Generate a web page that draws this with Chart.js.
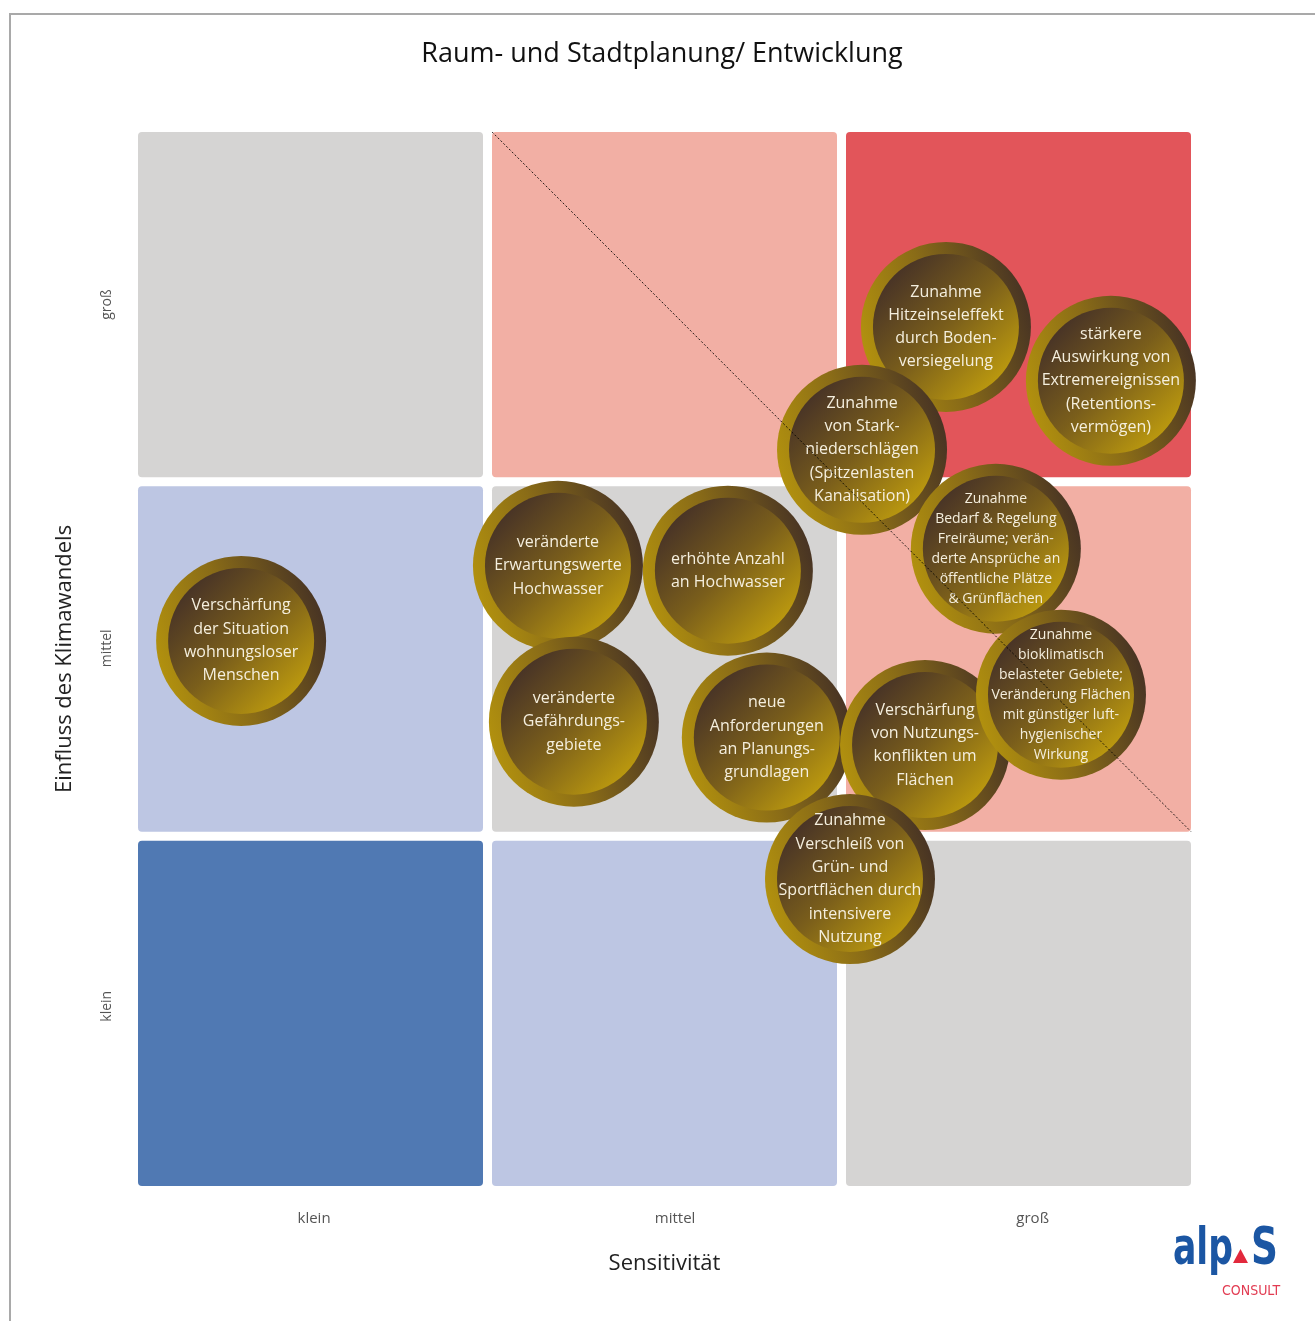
<!DOCTYPE html>
<html>
<head>
<meta charset="utf-8">
<script src="https://cdn.jsdelivr.net/npm/chart.js@4.4.1/dist/chart.umd.min.js"></script>
<style>
  body { margin: 0; background: #fff; }
  #rahmen { position: absolute; left: 9px; top: 13px; right: 0; bottom: 0; border-left: 2px solid #a9a9a9; border-top: 2px solid #a9a9a9; }
  #wrap { position: absolute; left: 0; top: 0; width: 1315px; height: 1321px; }
</style>
</head>
<body>
<div id="rahmen"></div>
<div id="wrap"><canvas id="matrix"></canvas></div>
<script>
//Achsen//
const achseX = ["klein", "mittel", "groß"];
const achseY = ["klein", "mittel", "groß"];
const tickPosX = [0.51, 1.53, 2.54];
const tickPosY = [0.52, 1.53, 2.5];

//Felder der Matrix (Spalte, Zeile, Farbe)//
const feldSpalte = [0, 1, 2, 0, 1, 2, 0, 1, 2];
const feldZeile = [2, 2, 2, 1, 1, 1, 0, 0, 0];
const feldFarbe = ["#d5d4d3", "#f2afa4", "#e2555a", "#bdc6e3", "#d5d4d3", "#f2afa4", "#5079b3", "#bdc6e3", "#d5d4d3"];

//Diagonale//
const linieX = [1.013, 2.987];
const linieY = [2.987, 1.013];

//Auswirkungen (Blasen)//
const blaseX = [0.304, 1.199, 1.679, 1.244, 1.789, 2.295, 2.761, 2.058, 2.436, 2.236, 2.62, 2.024];
const blaseY = [1.551, 1.763, 1.749, 1.323, 1.278, 2.437, 2.285, 2.09, 1.811, 1.257, 1.399, 0.879];
const blaseText = [
  ["Verschärfung", "der Situation", "wohnungsloser", "Menschen"],
  ["veränderte", "Erwartungswerte", "Hochwasser"],
  ["erhöhte Anzahl", "an Hochwasser"],
  ["veränderte", "Gefährdungs-", "gebiete"],
  ["neue", "Anforderungen", "an Planungs-", "grundlagen"],
  ["Zunahme", "Hitzeinseleffekt", "durch Boden-", "versiegelung"],
  ["stärkere", "Auswirkung von", "Extremereignissen", "(Retentions-", "vermögen)"],
  ["Zunahme", "von Stark-", "niederschlägen", "(Spitzenlasten", "Kanalisation)"],
  ["Zunahme", "Bedarf & Regelung", "Freiräume; verän-", "derte Ansprüche an", "öffentliche Plätze", "& Grünflächen"],
  ["Verschärfung", "von Nutzungs-", "konflikten um", "Flächen"],
  ["Zunahme", "bioklimatisch", "belasteter Gebiete;", "Veränderung Flächen", "mit günstiger luft-", "hygienischer", "Wirkung"],
  ["Zunahme", "Verschleiß von", "Grün- und", "Sportflächen durch", "intensivere", "Nutzung"]
];
const kleineSchrift = [8, 10];

const LUECKE = 4.5;
const RADIUS = 85;
const RING = 12;

function zeichneBlase(ctx, cx, cy, zeilen, klein) {
  let g = ctx.createLinearGradient(cx - RADIUS, cy + RADIUS * 0.3, cx + RADIUS, cy - RADIUS * 0.3);
  g.addColorStop(0, "#b3920e");
  g.addColorStop(0.45, "#8a6c17");
  g.addColorStop(1, "#463224");
  ctx.fillStyle = g;
  ctx.beginPath();
  ctx.arc(cx, cy, RADIUS, 0, Math.PI * 2);
  ctx.fill();

  const r = RADIUS - RING;
  g = ctx.createLinearGradient(cx - r * 0.7, cy - r * 0.7, cx + r * 0.7, cy + r * 0.7);
  g.addColorStop(0, "#4a3526");
  g.addColorStop(0.5, "#7a5e1b");
  g.addColorStop(1, "#b9970f");
  ctx.fillStyle = g;
  ctx.beginPath();
  ctx.arc(cx, cy, r, 0, Math.PI * 2);
  ctx.fill();

  const size = klein ? 14 : 16;
  const zh = klein ? 20 : 23.3;
  ctx.font = size + 'px "Open Sans"';
  ctx.fillStyle = "#f5efde";
  ctx.textAlign = "center";
  ctx.textBaseline = "middle";
  const start = cy - (zeilen.length - 1) * zh / 2;
  zeilen.forEach((z, i) => ctx.fillText(z, cx, start + i * zh));
}

const felderPlugin = {
  id: "felder",
  beforeDatasetsDraw(chart) {
    const { ctx, scales: { x, y } } = chart;
    ctx.save();
    for (let i = 0; i < feldFarbe.length; i++) {
      const l = x.getPixelForValue(feldSpalte[i]) + LUECKE;
      const r = x.getPixelForValue(feldSpalte[i] + 1) - LUECKE;
      const t = y.getPixelForValue(feldZeile[i] + 1) + LUECKE;
      const b = y.getPixelForValue(feldZeile[i]) - LUECKE;
      ctx.fillStyle = feldFarbe[i];
      ctx.beginPath();
      ctx.roundRect(l, t, r - l, b - t, 4);
      ctx.fill();
    }
    ctx.restore();
  }
};

const blasenPlugin = {
  id: "blasen",
  afterDatasetDraw(chart, args) {
    if (args.index !== 0) return;
    const ctx = chart.ctx;
    ctx.save();
    args.meta.data.forEach((el, i) => {
      zeichneBlase(ctx, el.x, el.y, blaseText[i], kleineSchrift.includes(i));
    });
    ctx.restore();
  }
};

const logoPlugin = {
  id: "logo",
  afterDraw(chart) {
    const ctx = chart.ctx;
    ctx.save();
    ctx.textAlign = "left";
    ctx.textBaseline = "alphabetic";
    ctx.fillStyle = "#1b56a3";
    ctx.font = 'bold 52px "Liberation Sans Narrow", "DejaVu Sans Condensed", "Liberation Sans"';
    ctx.save();
    ctx.translate(1173, 1264);
    ctx.scale(0.74, 1);
    ctx.fillText("alp", 0, 0);
    ctx.restore();
    ctx.save();
    ctx.translate(1251, 1264);
    ctx.scale(0.8, 1);
    ctx.fillText("S", 0, 0);
    ctx.restore();
    ctx.fillStyle = "#e2283c";
    ctx.beginPath();
    ctx.moveTo(1233, 1263);
    ctx.lineTo(1248, 1263);
    ctx.lineTo(1240.5, 1249);
    ctx.closePath();
    ctx.fill();
    ctx.fillStyle = "#e23c52";
    ctx.font = '14px "Liberation Sans Narrow", "DejaVu Sans Condensed"';
    ctx.fillText("CONSULT", 1222, 1295);
    ctx.restore();
  }
};

const data = {
  datasets: [
    {
      type: "bubble",
      label: "Auswirkungen",
      data: blaseX.map((v, i) => ({ x: v, y: blaseY[i] })),
      radius: RADIUS,
      backgroundColor: "rgba(0,0,0,0)",
      borderWidth: 0,
      order: 1
    },
    {
      type: "line",
      label: "Diagonale",
      data: linieX.map((v, i) => ({ x: v, y: linieY[i] })),
      borderColor: "rgba(0,0,0,0.85)",
      borderWidth: 1,
      borderDash: [2, 2],
      pointRadius: 0,
      fill: false,
      order: 0
    }
  ]
};

const config = {
  type: "bubble",
  data: data,
  plugins: [felderPlugin, blasenPlugin, logoPlugin],
  options: {
    responsive: true,
    maintainAspectRatio: false,
    animation: false,
    layout: { padding: { left: 9.5, right: 0.5, top: 0, bottom: 30.5 } },
    scales: {
      x: {
        type: "linear",
        min: 0,
        max: 3,
        afterBuildTicks: (s) => { s.ticks = tickPosX.map((v) => ({ value: v })); },
        afterFit: (s) => { s.height = 100; },
        grid: { display: false, drawTicks: false },
        border: { display: false },
        ticks: {
          autoSkip: false,
          callback: (v, i) => achseX[i],
          font: { family: "Open Sans", size: 15 },
          color: "#555",
          padding: 19
        },
        title: {
          display: true,
          text: "Sensitivität",
          font: { family: "Open Sans", size: 22 },
          color: "#222",
          padding: { top: 0, bottom: 14 }
        }
      },
      y: {
        type: "linear",
        min: 0,
        max: 3,
        afterBuildTicks: (s) => { s.ticks = tickPosY.map((v) => ({ value: v })); },
        afterFit: (s) => { s.width = 124; },
        grid: { display: false, drawTicks: false },
        border: { display: false },
        ticks: {
          autoSkip: false,
          minRotation: 90,
          maxRotation: 90,
          crossAlign: "center",
          callback: (v, i) => achseY[i],
          font: { family: "Open Sans", size: 14 },
          color: "#555",
          padding: 8
        },
        title: {
          display: true,
          text: "Einfluss des Klimawandels",
          font: { family: "Open Sans", size: 22 },
          color: "#222",
          padding: { top: 42, bottom: 0 }
        }
      },
      rechts: {
        type: "linear",
        position: "right",
        min: 0,
        max: 3,
        afterFit: (s) => { s.width = 119; },
        grid: { display: false, drawTicks: false },
        border: { display: false },
        ticks: { display: false }
      }
    },
    plugins: {
      legend: { display: false },
      tooltip: { enabled: false },
      title: {
        display: true,
        text: "Raum- und Stadtplanung/ Entwicklung",
        font: { family: "Open Sans", size: 27, weight: "normal" },
        color: "#111",
        padding: { top: 38, bottom: 57 }
      }
    }
  }
};

const matrixChart = new Chart(document.getElementById("matrix").getContext("2d"), config);
</script>
</body>
</html>
